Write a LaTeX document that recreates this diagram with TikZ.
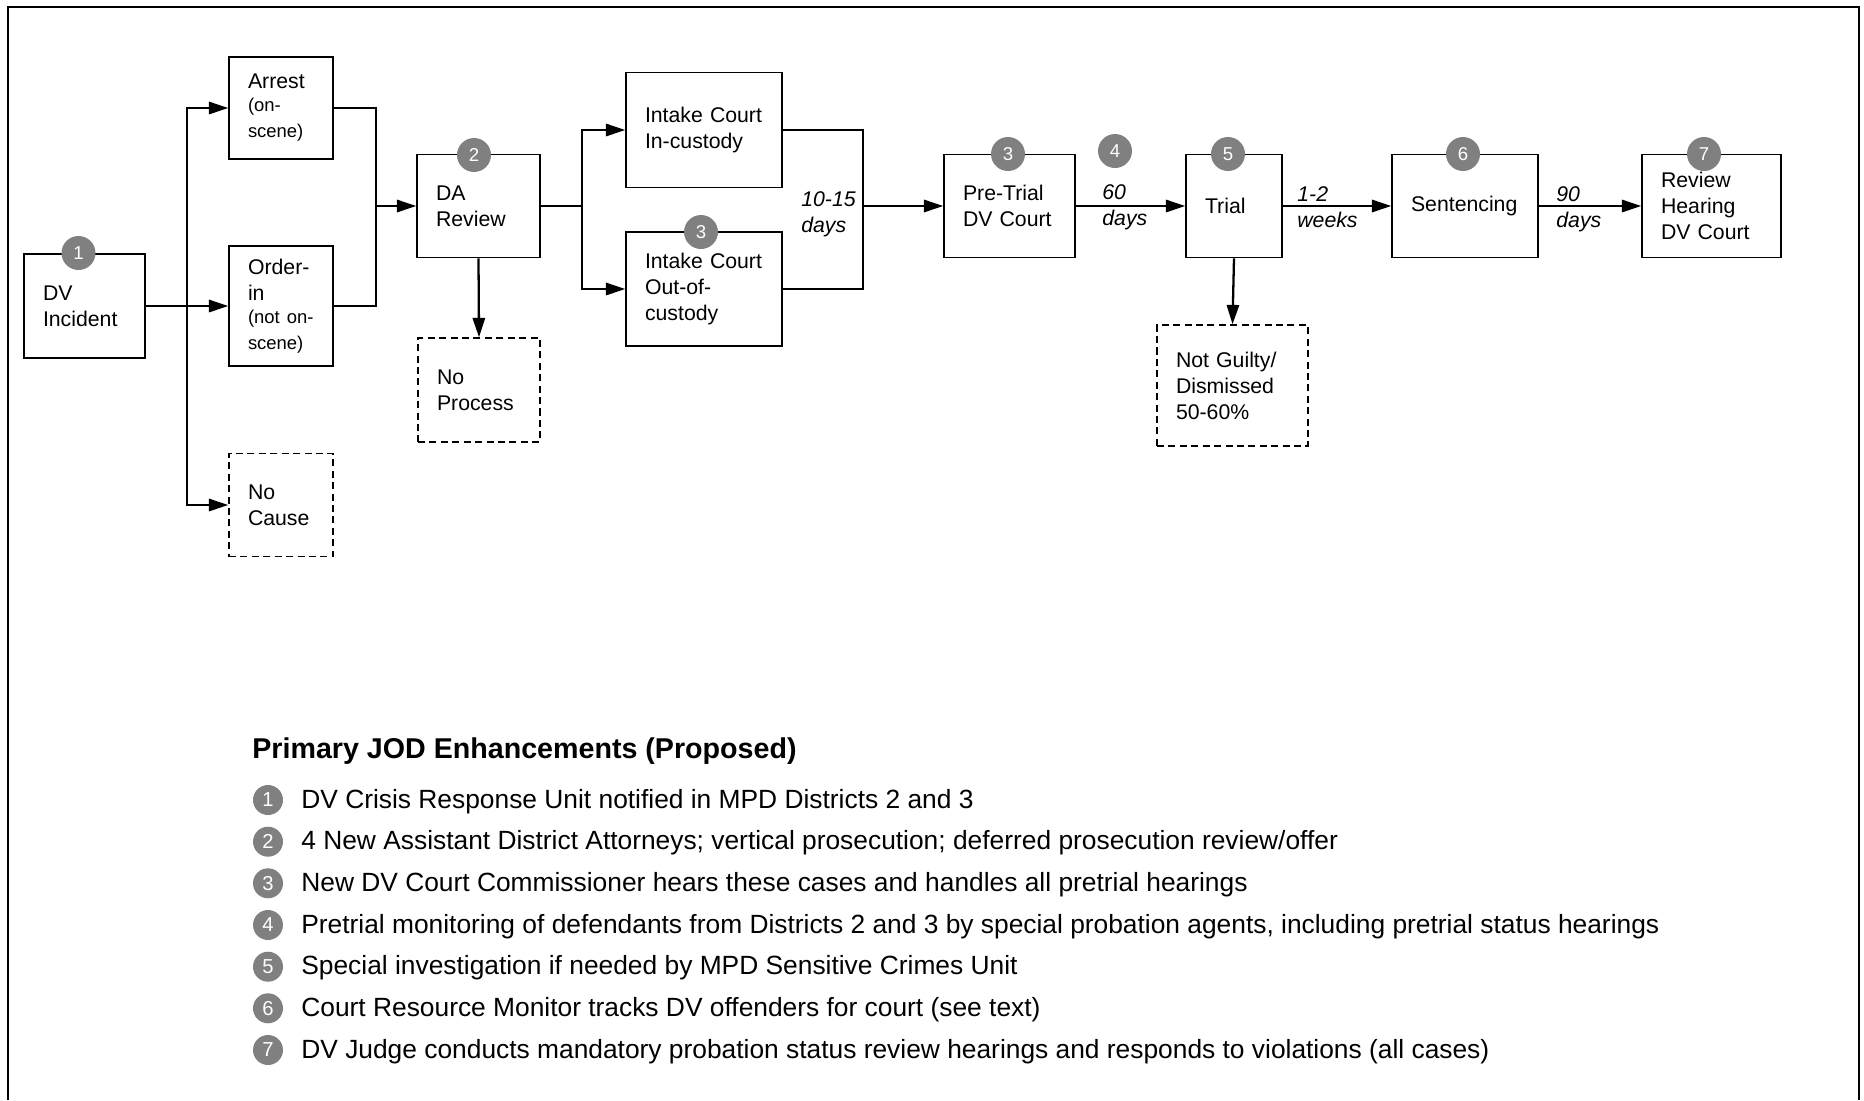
\documentclass[tikz,border=0pt]{standalone}
\usepackage{fontspec}
\setmainfont{Liberation Sans}
\usetikzlibrary{arrows.meta, positioning}
\definecolor{numgray}{RGB}{128,128,128}
\newcommand{\smtxt}{\fontsize{10.5}{12}\selectfont}

\begin{document}
\begin{tikzpicture}[x=0.02cm, y=-0.02cm,
  every node/.style={font=\fontsize{12.1}{14.8}\selectfont},
  box/.style={draw, line width=0.9pt, align=left, inner xsep=0.38cm, inner ysep=0pt},
  nobox/.style={box, dash pattern=on 4pt off 2.5pt},
  num/.style={circle, fill=numgray, text=white, inner sep=0pt, minimum size=0.68cm, font=\fontsize{10.6}{12}\selectfont},
  lnum/.style={num, minimum size=0.6cm, font=\fontsize{11.5}{12}\selectfont},
  lbl/.style={align=left, inner sep=0pt, anchor=west, font=\fontsize{12.1}{14.8}\selectfont\itshape},
  item/.style={anchor=base west, inner sep=0pt, font=\fontsize{15}{18}\selectfont},
  conn/.style={line width=1.3pt},
  arr/.style={conn, -{Triangle[length=11pt, width=7pt]}}]

\useasboundingbox (0,0) rectangle (1864,1100);

% Frame (open at the bottom)
\draw[line width=1.3pt] (8,1100) -- (8,7) -- (1859,7) -- (1859,1100);

% Arrest / order-in stage
\node[box, text width=1.66cm, minimum height=2.08cm] (incident) at (84.5,306) {DV\\Incident};
\node[box, text width=1.32cm, minimum height=2.04cm] (arrest) at (281,108) {Arrest\\[1pt]\smtxt\mbox{(on-}\\scene)};
\node[box, text width=1.32cm, minimum height=2.40cm] (order) at (281,306) {Order-\\in\\[1pt]\smtxt\mbox{(not on-}\\scene)};
\node[nobox, text width=1.32cm, minimum height=2.06cm] (nocause) at (281,505) {No\\Cause};

% DA review
\node[box, text width=1.70cm, minimum height=2.06cm] (dareview) at (478.5,206) {DA\\Review};
\node[nobox, text width=1.68cm, minimum height=2.08cm] (noprocess) at (479,390) {No\\Process};

% Intake courts
\node[box, text width=2.36cm, minimum height=2.30cm] (intakein) at (704,130) {Intake~Court\\In-custody};
\node[box, text width=2.36cm, minimum height=2.28cm] (intakeout) at (704,289) {Intake~Court\\Out-of-\\custody};

% Court stages
\node[box, text width=1.86cm, minimum height=2.06cm] (pretrial) at (1009.5,206) {Pre-Trial\\DV~Court};
\node[box, text width=1.16cm, minimum height=2.06cm] (trial) at (1234,206) {Trial};
\node[nobox, text width=2.26cm, minimum height=2.42cm] (notguilty) at (1232.5,385.5) {Not~Guilty/\\Dismissed\\50-60\%};
\node[box, text width=2.16cm, minimum height=2.06cm] (sentencing) at (1465,206) {Sentencing};
\node[box, text width=2.02cm, minimum height=2.06cm] (review) at (1711.5,206) {Review\\Hearing\\DV~Court};

% Time labels
\node[lbl] (days1015) at (801,214) {10-15\\days};
\node[lbl] (days60) at (1102,207) {60\\days};
\node[lbl] (weeks12) at (1297,207) {1-2\\weeks};
\node[lbl] (days90) at (1556,209) {90\\days};

% Connectors
\coordinate (fork1) at (187,306);
\coordinate (join1) at (376,206);
\coordinate (fork2) at (582,206);
\coordinate (join2) at (863,206);
\draw[arr] (incident.east) -- (order.west);
\draw[arr] (fork1) |- (arrest.west);
\draw[arr] (fork1) |- (nocause.west);
\draw[conn] (arrest.east) -| (join1) |- (order.east);
\draw[arr] (join1) -- (dareview.west);
\draw[arr] (dareview.south) -- (noprocess.north);
\draw[conn] (dareview.east) -- (fork2);
\draw[arr] (fork2) |- (intakein.west);
\draw[arr] (fork2) |- (intakeout.west);
\draw[conn] (intakein.east) -| (join2) |- (intakeout.east);
\draw[arr] (join2) -- (pretrial.west);
\draw[arr] (pretrial.east) -- (trial.west);
\draw[arr] (trial.south) -- (notguilty.north);
\draw[arr] (trial.east) -- (sentencing.west);
\draw[arr] (sentencing.east) -- (review.west);

% Enhancement markers
\node[num] (n1) at (78.5,253) {1};
\node[num] (n2) at (474,155) {2};
\node[num] (n3a) at (701,232) {3};
\node[num] (n3b) at (1008,154) {3};
\node[num] (n4) at (1115,151) {4};
\node[num] (n5) at (1228,154) {5};
\node[num] (n6) at (1463,154) {6};
\node[num] (n7) at (1704,154) {7};

% Legend
\node[item, font=\fontsize{16.3}{19}\selectfont\bfseries] (heading) at (252,758) {Primary JOD Enhancements (Proposed)};
\node[lnum] (b1) at (268,800) {1};
\node[item] (e1) at (301,808) {DV Crisis Response Unit notified in MPD Districts 2 and 3};
\node[lnum] (b2) at (268,841.7) {2};
\node[item] (e2) at (301,849.7) {4 New Assistant District Attorneys; vertical prosecution; deferred prosecution review/offer};
\node[lnum] (b3) at (268,883.3) {3};
\node[item] (e3) at (301,891.3) {New DV Court Commissioner hears these cases and handles all pretrial hearings};
\node[lnum] (b4) at (268,925) {4};
\node[item] (e4) at (301,933) {Pretrial monitoring of defendants from Districts 2 and 3 by special probation agents, including pretrial status hearings};
\node[lnum] (b5) at (268,966.7) {5};
\node[item] (e5) at (301,974.7) {Special investigation if needed by MPD Sensitive Crimes Unit};
\node[lnum] (b6) at (268,1008.3) {6};
\node[item] (e6) at (301,1016.3) {Court Resource Monitor tracks DV offenders for court (see text)};
\node[lnum] (b7) at (268,1050) {7};
\node[item] (e7) at (301,1058) {DV Judge conducts mandatory probation status review hearings and responds to violations (all cases)};

\end{tikzpicture}
\end{document}
